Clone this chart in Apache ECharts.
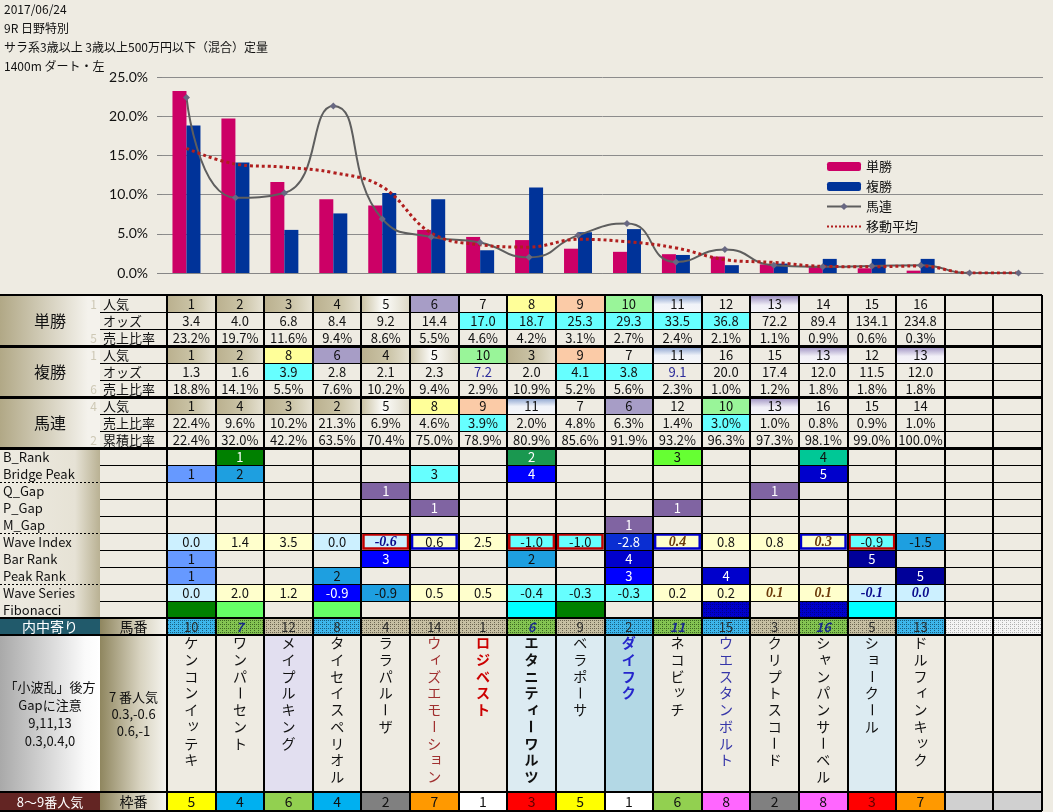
<!DOCTYPE html>
<html><head><meta charset="utf-8">
<script src="https://cdn.jsdelivr.net/npm/echarts@6/dist/echarts.min.js"></script>
<style>html,body{margin:0;padding:0;background:#EEEBE2;}#c{width:1053px;height:812px;}</style>
</head><body><div id="c"></div>
<script>
// ================= DATA =================
const raceInfo = ['2017/06/24', '9R 日野特別', 'サラ系3歳以上 3歳以上500万円以下（混合）定量', '1400m ダート・左'];
const chartCategories = ['1','2','3','4','5','6','7','8','9','10','11','12','13','14','15','16','17','18'];
const legendNames = ['単勝', '複勝', '馬連', '移動平均'];

const tanNinki = [1,2,3,4,5,6,7,8,9,10,11,12,13,14,15,16];
const tanOdds = ['3.4','4.0','6.8','8.4','9.2','14.4','17.0','18.7','25.3','29.3','33.5','36.8','72.2','89.4','134.1','234.8'];
const tanShare = [23.2,19.7,11.6,9.4,8.6,5.5,4.6,4.2,3.1,2.7,2.4,2.1,1.1,0.9,0.6,0.3];

const fukuNinki = [1,2,8,6,4,5,10,3,9,7,11,16,15,13,12,13];
const fukuOdds = ['1.3','1.6','3.9','2.8','2.1','2.3','7.2','2.0','4.1','3.8','9.1','20.0','17.4','12.0','11.5','12.0'];
const fukuShare = [18.8,14.1,5.5,7.6,10.2,9.4,2.9,10.9,5.2,5.6,2.3,1.0,1.2,1.8,1.8,1.8];

const umarenNinki = [1,4,3,2,5,8,9,11,7,6,12,10,13,16,15,14];
const umarenShare = [22.4,9.6,10.2,21.3,6.9,4.6,3.9,2.0,4.8,6.3,1.4,3.0,1.0,0.8,0.9,1.0];
const umarenCum = [22.4,32.0,42.2,63.5,70.4,75.0,78.9,80.9,85.6,91.9,93.2,96.3,97.3,98.1,99.0,100.0];
const umarenLine = [22.4,9.6,10.2,21.3,6.9,4.6,3.9,2.0,4.8,6.3,1.4,3.0,1.0,0.8,0.9,1.0,0,0];
const movingAvg = [15.9,13.9,13.5,12.8,11.0,5.1,3.6,3.3,4.3,4.0,3.2,1.7,1.35,0.85,0.8,0.9,0,0];

const tanSideNums = ['1','','5'];
const fukuSideNums = ['1','','6'];
const umarenSideNums = ['4','','2'];

const rowLabels = ['B_Rank','Bridge Peak','Q_Gap','P_Gap','M_Gap','Wave Index','Bar Rank','Peak Rank','Wave Series','Fibonacci'];
const bRank      = ['','1','','','','','','2','','','3','','','4','',''];
const bridgePeak = ['1','2','','','','3','','4','','','','','','5','',''];
const qGap       = ['','','','','1','','','','','','','','1','','',''];
const pGap       = ['','','','','','1','','','','','1','','','','',''];
const mGap       = ['','','','','','','','','','1','','','','','',''];
const waveIndex  = ['0.0','1.4','3.5','0.0','-0.6','0.6','2.5','-1.0','-1.0','-2.8','0.4','0.8','0.8','0.3','-0.9','-1.5'];
const barRank    = ['1','','','','3','','','2','','4','','','','','5',''];
const peakRank   = ['1','','','2','','','','','','3','','4','','','','5'];
const waveSeries = ['0.0','2.0','1.2','-0.9','-0.9','0.5','0.5','-0.4','-0.3','-0.3','0.2','0.2','0.1','0.1','-0.1','0.0'];
const fibonacci  = ['','','','','','','','','','','','','','','',''];

const umaban = [10,7,12,8,4,14,1,6,9,2,11,15,3,16,5,13];
const horseNames = ['ケンコンイッテキ','ワンパーセント','メイプルキング','タイセイスペリオル','ララパルーザ','ウィズエモーション','ロジベスト','エタニティーワルツ','ベラポーサ','ダイフク','ネコビッチ','ウエスタンボルト','クリプトスコード','シャンパンサーベル','ショークール','ドルフィンキック'];
const wakuban = [5,4,6,4,2,7,1,3,5,1,6,8,2,8,3,7];

const labelUchi = '内中寄り';
const labelUmaban = '馬番';
const labelWakuName = '8〜9番人気';
const labelWaku = '枠番';
const noteA = '「小波乱」後方\nGapに注意\n9,11,13\n0.3,0.4,0';
const noteB = '7 番人気\n0.3,-0.6\n0.6,-1';

// ================= STYLES =================
const JP = '"Noto Sans CJK JP", sans-serif';
const G = echarts.graphic;
function hg(stops){ return new G.LinearGradient(0,0,1,0, stops.map(s=>({offset:s[0],color:s[1]}))); }
function vg(stops){ return new G.LinearGradient(0,0,0,1, stops.map(s=>({offset:s[0],color:s[1]}))); }
function dots(base, dot){
  const cv = document.createElement('canvas'); cv.width = 4; cv.height = 4;
  const g = cv.getContext('2d'); g.fillStyle = base; g.fillRect(0,0,4,4);
  g.fillStyle = dot; g.fillRect(0,0,1,1); g.fillRect(2,2,1,1); g.fillRect(2,0,1,1);
  return {image: cv, repeat: 'repeat'};
}
const FILLS = {
  tan: () => hg([[0,'#BAB08E'],[0.55,'#CBC4A7'],[1,'#E6E2D3']]),
  wt:  () => hg([[0,'#C9C1A3'],[0.45,'#FDFDFB'],[1,'#DCD7C5']]),
  pu: '#A79DC6', ye: '#FFFF99', pe: '#FBCBA7', gr: '#99F599',
  bgr: () => vg([[0,'#7D98C9'],[0.55,'#F0F3F9'],[1,'#F5F6F8']]),
  pgr: () => vg([[0,'#9587BC'],[0.6,'#F1EFF7'],[1,'#F5F4F8']]),
  cy: '#66FFFF', lb: '#CCF0FF', ly: '#FFFFCC', sb: '#1E9FE0', bl: '#0000FF',
  db: '#0000CC', nv: '#000099', wb: '#0A2ED2', cf: '#6699FF', pp: '#8064A2',
  dg: '#008000', mg: '#1A9850', lg: '#66FF33', tg: '#00C896', fg: '#66FF66', fc: '#00FFFF',
  fbd: dots('#0000CC', '#00008A'),
  dBlue: dots('#3DB6EC', '#1A5F80'), dGreen: dots('#84C452', '#3E6A22'),
  dTan: dots('#C7BFA3', '#6E6652'), dWhite: dots('#F4F4F4', '#B0B0B0'),
  lav: '#E2DFF0', lbl: '#DCEBF2', dbl: '#B3D8E5',
  colA: () => hg([[0,'#B1A886'],[0.88,'#F4F2EC'],[1,'#F4F2EC']]),
  colAlow: () => hg([[0,'#EEEBE2'],[0.75,'#E6E2D5'],[1,'#B9B193']]),
  colBtan: () => hg([[0,'#8F865F'],[0.6,'#D8D3C0'],[1,'#F6F5F0']]),
  colAgray: () => hg([[0,'#A9A9A9'],[0.85,'#FAFAFA'],[1,'#FFFFFF']]),
  uchi: '#215A6B', wakuLab: '#632523'
};
const WHITE_TEXT = {bl:1, db:1, nv:1, wb:1, pp:1, dg:1, mg:1, fbd:1};
const ninkiFill = {1:'tan',2:'tan',3:'tan',4:'tan',5:'wt',6:'pu',8:'ye',9:'pe',10:'gr',11:'bgr',13:'pgr'};
const tanOddsFill = ['','','','','','','cy','cy','cy','cy','cy','cy','','','',''];
const fukuOddsFill = ['','','cy','','','','','','cy','cy','','','','','',''];
const fukuOddsColor = ['','','','','','','#2B2B9A','','','','#2B2B9A','','','','',''];
const umarenShareFill = ['','','','','','','cy','','','','','cy','','','',''];
const bRankFill = ['','dg','','','','','','mg','','','lg','','','tg','',''];
const bridgePeakFill = ['cf','sb','','','','cy','','bl','','','','','','db','',''];
const barRankFill = ['cf','','','','bl','','','sb','','db','','','','','nv',''];
const peakRankFill = ['cf','','','sb','','','','','','bl','','db','','','','nv'];
const waveIndexFill = ['lb','ly','ly','lb','lb','ly','ly','cy','cy','wb','ly','ly','ly','ly','cy','sb'];
const waveIndexBorder = ['','','','','#C00000','#0000CC','','#C00000','#C00000','','#0000CC','','','#0000CC','#C00000',''];
const waveIndexFont = ['','','','','biB','','','','','','biR','','','biR','',''];
const waveSeriesFill = ['lb','ly','ly','bl','sb','ly','ly','cy','cy','cy','ly','ly','ly','ly','lb','lb'];
const waveSeriesFont = ['','','','','','','','','','','','','biR','biR','biB','biB'];
const fibonacciFill = ['dg','fg','','fg','','','','fc','dg','','','fbd','','fbd','fc',''];
const umabanFill = ['dBlue','dGreen','dTan','dBlue','dTan','dTan','dTan','dGreen','dTan','dBlue','dGreen','dBlue','dTan','dGreen','dTan','dBlue'];
const nameFill = ['','','lav','','','','','lbl','lbl','dbl','','','','','lbl',''];
const nameColor = ['','','','','','#A03030','#CC0000','','','#2424CC','','#3535A8','','','',''];
const nameBold = [0,0,0,0,0,0,1,1,0,1,0,0,0,0,0,0];
const wakuFill = {1:'#FFFFFF',2:'#808080',3:'#FF0000',4:'#00B0F0',5:'#FFFF00',6:'#92D050',7:'#FF9900',8:'#FF66FF'};
const FONTSTY = {
  biB: {fontWeight:'bold', fontStyle:'italic', fontFamily:'"Liberation Serif", serif', fontSize:14, color:'#0A0A8C'},
  biR: {fontWeight:'bold', fontStyle:'italic', fontFamily:'"Liberation Serif", serif', fontSize:14, color:'#6B3A0A'}
};

// ================= LAYOUT =================
const NCOL = 18;
const CW = 875 / NCOL;
const XMIN = -167 / CW, XB = -67 / CW;
const RH = 17;
const NAME_H = 157 / RH, WAKU_H = 19 / RH;
const Y_NAME = 20, Y_WAKU = 20 + NAME_H, YMAX = 20 + NAME_H + WAKU_H;

// ================= CELLS =================
const cells = [];
function cell(x0,x1,y0,y1,o){ cells.push(Object.assign({x0,x1,y0,y1},o)); }
function dcell(col,row,o){ cell(col,col+1,row,row+1,o); }
function fillOf(k){ if(!k) return null; const f = FILLS[k]; return typeof f === 'function' ? f() : f; }
function pct(v){ return v.toFixed(1) + '%'; }

const groups = [
  {label:'単勝', side: tanSideNums, rows:[
    {name:'人気', vals: tanNinki.map(String), fills: tanNinki.map(n=>ninkiFill[n]||'')},
    {name:'オッズ', vals: tanOdds, fills: tanOddsFill},
    {name:'売上比率', vals: tanShare.map(pct), fills: []}]},
  {label:'複勝', side: fukuSideNums, rows:[
    {name:'人気', vals: fukuNinki.map(String), fills: fukuNinki.map(n=>ninkiFill[n]||'')},
    {name:'オッズ', vals: fukuOdds, fills: fukuOddsFill, colors: fukuOddsColor},
    {name:'売上比率', vals: fukuShare.map(pct), fills: []}]},
  {label:'馬連', side: umarenSideNums, rows:[
    {name:'人気', vals: umarenNinki.map(String), fills: umarenNinki.map(n=>ninkiFill[n]||'')},
    {name:'売上比率', vals: umarenShare.map(pct), fills: umarenShareFill},
    {name:'累積比率', vals: umarenCum.map(pct), fills: []}]}
];
groups.forEach((g, gi) => {
  const r0 = gi * 3;
  cell(XMIN, XB, r0, r0 + 3, {fill: fillOf('colA'), text: g.label, fontSize: 16});
  g.rows.forEach((r, ri) => {
    const row = r0 + ri;
    if (g.side[ri]) cell(XMIN, XB, row, row + 1, {text: g.side[ri], color: '#CEC9B6', align: 'right', pad: 3, fontSize: 12});
    cell(XB, 0, row, row + 1, {text: r.name, align: 'left', pad: 3, fontSize: 13});
    for (let c = 0; c < NCOL; c++) {
      const v = r.vals[c] || '';
      const fk = r.fills[c] || '';
      dcell(c, row, {fill: fillOf(fk), text: v, color: (r.colors && r.colors[c]) || '#111'});
    }
  });
});

const lowerRows = [
  {vals: bRank, fills: bRankFill},
  {vals: bridgePeak, fills: bridgePeakFill},
  {vals: qGap, fills: qGap.map(v => v ? 'pp' : '')},
  {vals: pGap, fills: pGap.map(v => v ? 'pp' : '')},
  {vals: mGap, fills: mGap.map(v => v ? 'pp' : '')},
  {vals: waveIndex, fills: waveIndexFill, borders: waveIndexBorder, fonts: waveIndexFont},
  {vals: barRank, fills: barRankFill},
  {vals: peakRank, fills: peakRankFill},
  {vals: waveSeries, fills: waveSeriesFill, fonts: waveSeriesFont},
  {vals: fibonacci, fills: fibonacciFill}
];
lowerRows.forEach((r, i) => {
  const row = 9 + i;
  cell(XMIN, XB, row, row + 1, {fill: fillOf('colAlow'), text: rowLabels[i], align: 'left', pad: 3, fontSize: 13});
  for (let c = 0; c < NCOL; c++) {
    const fk = r.fills[c] || '';
    const o = {fill: fillOf(fk), text: r.vals[c] || '', color: WHITE_TEXT[fk] ? '#FFFFFF' : '#111'};
    if (r.borders && r.borders[c]) o.border = r.borders[c];
    if (r.fonts && r.fonts[c]) Object.assign(o, FONTSTY[r.fonts[c]]);
    dcell(c, row, o);
  }
});

// 内中寄り / 馬番 row
cell(XMIN, XB, 19, 20, {fill: fillOf('uchi'), text: labelUchi, color: '#FFFFFF', fontSize: 14});
cell(XB, 0, 19, 20, {fill: fillOf('colBtan'), text: labelUmaban, fontSize: 14});
for (let c = 0; c < NCOL; c++) {
  const fk = umabanFill[c] || 'dWhite';
  const o = {fill: fillOf(fk), text: umaban[c] != null ? String(umaban[c]) : '', color: '#2A2A2A'};
  if (fk === 'dGreen') Object.assign(o, {fontWeight: 'bold', fontStyle: 'italic', color: '#1A2A8C'});
  dcell(c, 19, o);
}
// names row
cell(XMIN, XB, Y_NAME, Y_WAKU, {fill: fillOf('colAgray'), text: noteA, fontSize: 13, lineHeight: 18});
cell(XB, 0, Y_NAME, Y_WAKU, {fill: fillOf('colBtan'), text: noteB, fontSize: 13, lineHeight: 17});
for (let c = 0; c < NCOL; c++) {
  cell(c, c + 1, Y_NAME, Y_WAKU, {fill: fillOf(nameFill[c]), vtext: horseNames[c] || '',
    color: nameColor[c] || '#111', fontWeight: nameBold[c] ? 'bold' : 'normal'});
}
// 枠番 row
cell(XMIN, XB, Y_WAKU, YMAX, {fill: fillOf('wakuLab'), text: labelWakuName, color: '#FFFFFF', fontSize: 13});
cell(XB, 0, Y_WAKU, YMAX, {fill: fillOf('colBtan'), text: labelWaku, fontSize: 14});
for (let c = 0; c < NCOL; c++) {
  const w = wakuban[c];
  cell(c, c + 1, Y_WAKU, YMAX, {fill: w ? wakuFill[w] : '#D0D0D0', text: w ? String(w) : '',
    color: w === 3 ? '#5A0000' : '#111', fontSize: 14});
}

// ================= LINES =================
const lines = [];
function hl(y, x0, x1, w, dash){ lines.push({x0, x1, y0: y, y1: y, w, dash}); }
for (let c = 0; c <= NCOL; c++) lines.push({x0: c, x1: c, y0: 0, y1: YMAX, w: 2});
hl(0, XMIN, NCOL, 2);
[1,2,4,5,7,8].forEach(y => hl(y, XB, NCOL, 1));
[3,6,9].forEach(y => hl(y, XMIN, NCOL, 3));
for (let y = 10; y <= 18; y++) hl(y, XB, NCOL, 1);
[11,14,17].forEach(y => hl(y, XMIN, XB, 1, true));
[19, 20, Y_WAKU, YMAX].forEach(y => hl(y, XMIN, NCOL, 2));

const SMALL = 'ァィゥェォッャュョヮ';
function renderCell(params, api){
  const c = cells[params.dataIndex];
  const p0 = api.coord([c.x0, c.y0]), p1 = api.coord([c.x1, c.y1]);
  const x = p0[0], y = p0[1], w = p1[0] - p0[0], h = p1[1] - p0[1];
  const ch = [];
  if (c.fill) ch.push({type: 'rect', shape: {x, y, width: w, height: h}, style: {fill: c.fill}});
  if (c.border) ch.push({type: 'rect', shape: {x: x + 2, y: y + 1.5, width: w - 4, height: h - 3},
    style: {fill: 'none', stroke: c.border, lineWidth: 2.5}});
  const base = {fill: c.color || '#111', fontSize: c.fontSize || 13, fontFamily: c.fontFamily || JP,
    fontWeight: c.fontWeight || 'normal', fontStyle: c.fontStyle || 'normal'};
  if (c.vtext) {
    const chars = Array.from(c.vtext);
    const cx = x + w / 2;
    chars.forEach((chr, k) => {
      const small = SMALL.indexOf(chr) >= 0;
      ch.push({type: 'text', x: cx + (small ? 2 : 0), y: y + 8 + k * 16.7 - (small ? 2 : 0),
        rotation: chr === 'ー' ? -Math.PI / 2 : 0,
        style: Object.assign({}, base, {text: chr, fontSize: 14, align: 'center', verticalAlign: 'middle'})});
    });
  } else if (c.text) {
    const align = c.align || 'center';
    const tx = align === 'left' ? x + (c.pad || 0) : align === 'right' ? x + w - (c.pad || 0) : x + w / 2;
    ch.push({type: 'text', x: tx, y: y + h / 2 + 0.5,
      style: Object.assign({}, base, {text: c.text, align, verticalAlign: 'middle', lineHeight: c.lineHeight || undefined})});
  }
  return {type: 'group', children: ch};
}
function renderLine(params, api){
  const L = lines[params.dataIndex];
  const a = api.coord([L.x0, L.y0]), b = api.coord([L.x1, L.y1]);
  const off = L.w % 2 === 1 ? 0.5 : 0;
  let x1 = a[0], y1 = a[1], x2 = b[0], y2 = b[1];
  if (L.y0 === L.y1) { y1 = y2 = Math.round(y1) + off; } else { x1 = x2 = Math.round(x1) + off; }
  return {type: 'line', shape: {x1, y1, x2, y2},
    style: {stroke: '#000', lineWidth: L.w, lineDash: L.dash ? [2, 2] : null}};
}

// ================= CHART =================
const chart = echarts.init(document.getElementById('c'), null, {renderer: 'canvas', width: 1053, height: 812});
const option = {
  backgroundColor: '#EEEBE2',
  animation: false,
  textStyle: {fontFamily: JP},
  graphic: raceInfo.map((t, i) => ({type: 'text', left: 4, top: 3 + i * 19,
    style: {text: t, fill: '#111', fontSize: 12, fontFamily: JP}})),
  legend: {orient: 'vertical', left: 821, top: 155, itemWidth: 34, itemHeight: 9, itemGap: 7,
    textStyle: {fontSize: 13, fontFamily: JP, color: '#111'},
    data: [legendNames[0], legendNames[1], legendNames[2],
      {name: legendNames[3], itemStyle: {opacity: 0}}]},
  grid: [
    {left: 162, top: 77, width: 881, height: 196},
    {left: 0, top: 295, width: 1042, height: 516}
  ],
  xAxis: [
    {type: 'category', gridIndex: 0, data: chartCategories,
      axisLine: {lineStyle: {color: '#868686'}}, axisTick: {interval: 0, length: 5, lineStyle: {color: '#868686'}},
      axisLabel: {show: false}},
    {type: 'value', gridIndex: 1, min: XMIN, max: NCOL, show: false}
  ],
  yAxis: [
    {type: 'value', gridIndex: 0, min: 0, max: 25, interval: 5,
      axisLine: {show: false}, axisTick: {show: true, length: 5, lineStyle: {color: '#868686'}},
      splitLine: {lineStyle: {color: '#8C8C8C'}},
      axisLabel: {formatter: v => v.toFixed(1) + '%', fontSize: 14, fontFamily: 'Lato, sans-serif', color: '#111', margin: 14}},
    {type: 'value', gridIndex: 1, min: 0, max: YMAX, inverse: true, show: false}
  ],
  series: [
    {name: '単勝', type: 'bar', xAxisIndex: 0, yAxisIndex: 0, data: tanShare, barWidth: 14, barGap: '0%',
      itemStyle: {color: '#CC0066'}},
    {name: '複勝', type: 'bar', xAxisIndex: 0, yAxisIndex: 0, data: fukuShare, barWidth: 14, barGap: '0%',
      itemStyle: {color: '#003399'}},
    {name: '馬連', type: 'line', xAxisIndex: 0, yAxisIndex: 0, data: umarenLine, smooth: 0.55,
      symbol: 'diamond', symbolSize: 7, lineStyle: {color: '#5E5E5E', width: 2},
      itemStyle: {color: '#686882'}},
    {name: '移動平均', type: 'line', xAxisIndex: 0, yAxisIndex: 0, data: movingAvg, smooth: 0.4,
      symbol: 'none', lineStyle: {color: '#B01E1E', width: 3, type: 'dotted'}, itemStyle: {color: '#B01E1E'}, z: 3},
    {type: 'custom', xAxisIndex: 1, yAxisIndex: 1, renderItem: renderCell, silent: true, z: 1,
      data: cells.map(c => [c.x0, c.y0, c.x1, c.y1])},
    {type: 'custom', xAxisIndex: 1, yAxisIndex: 1, renderItem: renderLine, silent: true, z: 2,
      data: lines.map(l => [l.x0, l.y0, l.x1, l.y1])}
  ]
};
chart.setOption(option);
</script></body></html>
